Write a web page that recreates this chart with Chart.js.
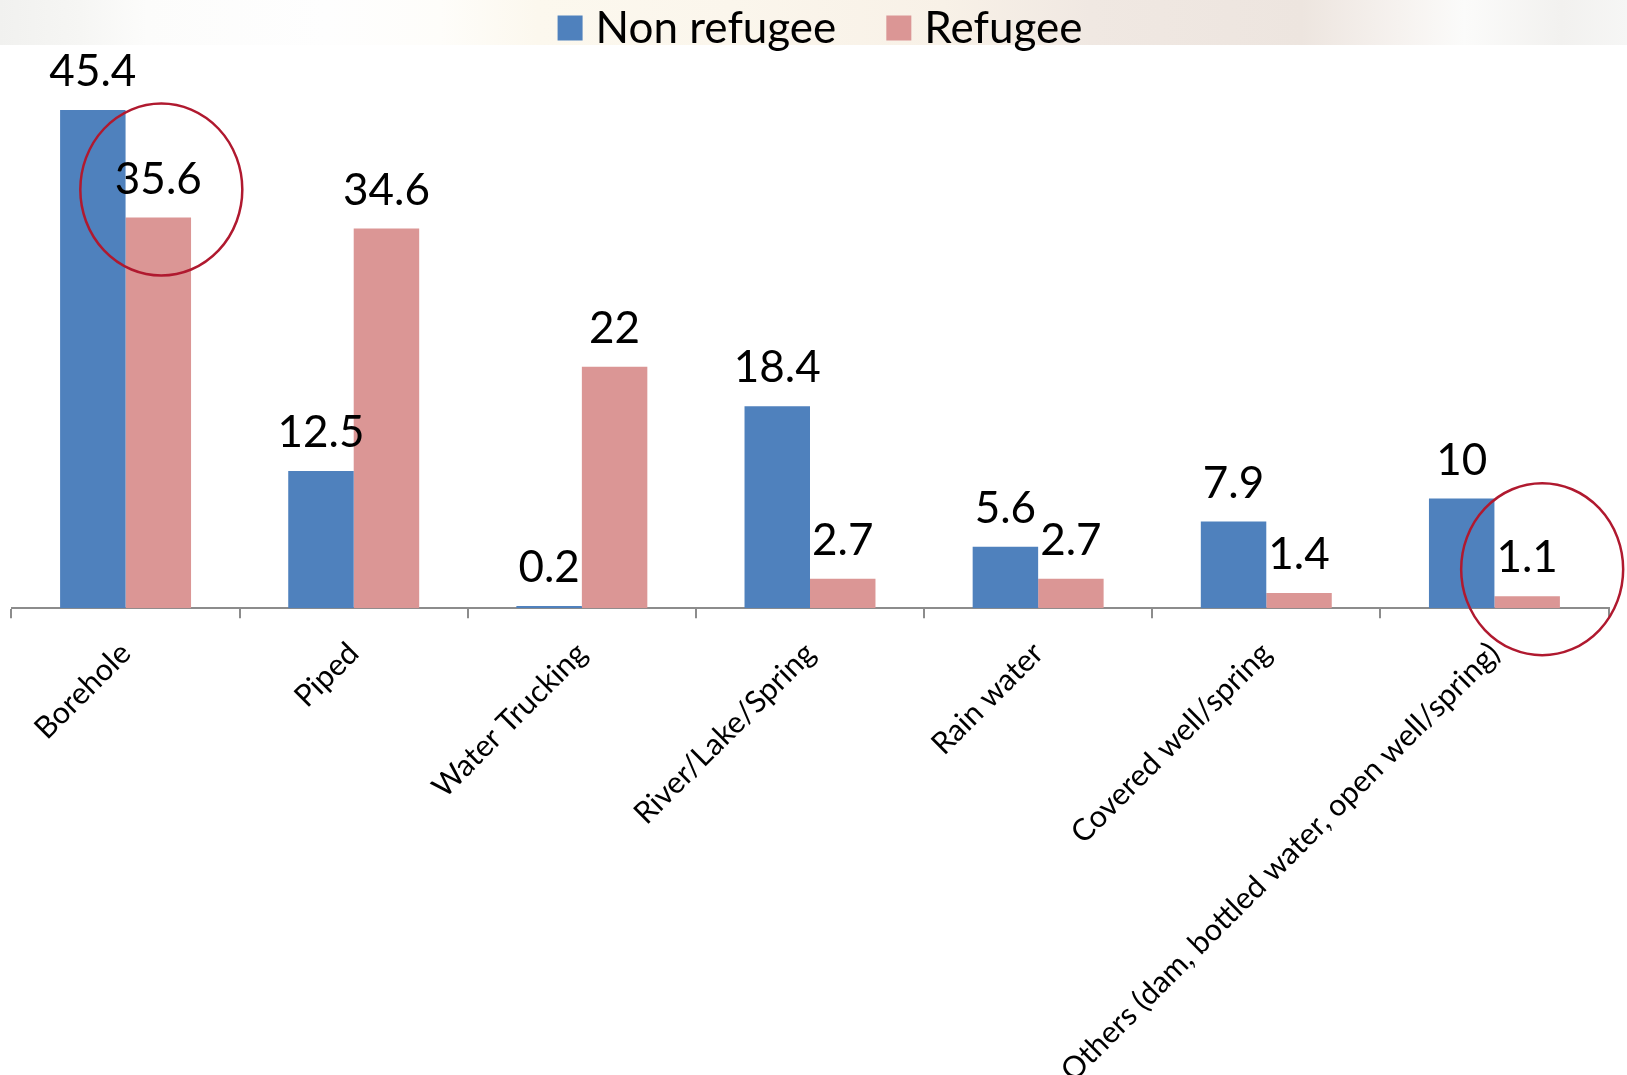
<!DOCTYPE html>
<html>
<head>
<meta charset="utf-8">
<script src="https://cdn.jsdelivr.net/npm/chart.js@4.4.1/dist/chart.umd.min.js"></script>
<style>
    html, body { margin: 0; padding: 0; background: #fff; }
    #wrap { position: relative; width: 1627px; height: 1075px; }
    #band {
        position: absolute; left: 0; top: 0; width: 1627px; height: 45px;
        background: linear-gradient(90deg, #f1f1ef 0%, #f6f6f4 5%, #fcfcfb 9%, #fefefe 20%, #fefdfa 27%, #fcf8ee 33%, #fbf6ec 45%, #f8f1e7 58%, #f0e8e2 67%, #ede5df 80%, #f6f2ef 86%, #fbfbfa 90%, #f2f1ef 96%, #f6f6f5 100%);
    }
    #creditChart { position: absolute; left: 0; top: 0; }
</style>
</head>
<body>
<div id="wrap">
    <div id="band"></div>
    <canvas id="creditChart" width="1627" height="1075"></canvas>
</div>
<script>
const categories = ['Borehole', 'Piped', 'Water Trucking', 'River/Lake/Spring', 'Rain water', 'Covered well/spring', 'Others (dam, bottled water, open well/spring)'];
const nonRefugee = [45.4, 12.5, 0.2, 18.4, 5.6, 7.9, 10];
const refugee = [35.6, 34.6, 22, 2.7, 2.7, 1.4, 1.1];
const seriesNames = ['Non refugee', 'Refugee'];
const seriesColors = ['#4F81BD', '#DB9695'];

const FONT = 'Lato, "Open Sans", sans-serif';

// legend drawn by hand so spacing matches the slide
const legendPlugin = {
    id: 'slideLegend',
    afterDraw(chart) {
        const ctx = chart.ctx;
        ctx.save();
        ctx.font = '44px ' + FONT;
        ctx.textBaseline = 'middle';
        ctx.textAlign = 'left';
        const box = 25, gapText = 13, gapItem = 50;
        const widths = chart.data.datasets.map(ds => box + gapText + ctx.measureText(ds.label).width);
        const total = widths.reduce((a, b) => a + b, 0) + gapItem * (widths.length - 1);
        let x = 820 - total / 2;
        const cy = 28;
        chart.data.datasets.forEach((ds, i) => {
            ctx.fillStyle = ds.backgroundColor;
            ctx.fillRect(x, cy - box / 2, box, box);
            ctx.fillStyle = '#000';
            ctx.fillText(ds.label, x + box + gapText, cy + 1);
            x += widths[i] + gapItem;
        });
        ctx.restore();
    }
};

const valueLabels = {
    id: 'valueLabels',
    afterDatasetsDraw(chart) {
        const ctx = chart.ctx;
        ctx.save();
        ctx.font = '44px ' + FONT;
        ctx.fillStyle = '#000';
        ctx.textAlign = 'center';
        ctx.textBaseline = 'alphabetic';
        chart.data.datasets.forEach((ds, di) => {
            chart.getDatasetMeta(di).data.forEach((bar, i) => {
                ctx.fillText(String(ds.data[i]), bar.x, bar.y - 24);
            });
        });
        ctx.restore();
    }
};

// red rings from the slide, placed around the refugee bars they point at
const rings = {
    id: 'rings',
    afterDraw(chart) {
        const ctx = chart.ctx;
        const meta = chart.getDatasetMeta(1);
        const marks = [{ i: 0, dx: 3, dy: -28 }, { i: 6, dx: 15, dy: -27 }];
        ctx.save();
        ctx.strokeStyle = '#B0192F';
        ctx.lineWidth = 2.5;
        marks.forEach(m => {
            const bar = meta.data[m.i];
            ctx.beginPath();
            ctx.ellipse(bar.x + m.dx, bar.y + m.dy, 81, 86, 0, 0, Math.PI * 2);
            ctx.stroke();
        });
        ctx.restore();
    }
};

const ctx = document.getElementById('creditChart').getContext('2d');
new Chart(ctx, {
    type: 'bar',
    data: {
        labels: categories,
        datasets: [
            { label: seriesNames[0], data: nonRefugee, backgroundColor: seriesColors[0] },
            { label: seriesNames[1], data: refugee, backgroundColor: seriesColors[1] }
        ]
    },
    options: {
        responsive: false,
        animation: false,
        events: [],
        layout: { padding: { top: 59.5, left: 11.5, right: 18.5, bottom: 0 } },
        datasets: { bar: { categoryPercentage: 0.574, barPercentage: 1 } },
        plugins: {
            legend: { display: false },
            tooltip: { enabled: false }
        },
        scales: {
            x: {
                offset: true,
                grid: { display: true, drawOnChartArea: false, drawTicks: true, tickLength: 10, color: '#8c8c8c', lineWidth: 2, offset: true },
                border: { display: true, color: '#8c8c8c', width: 2 },
                ticks: {
                    autoSkip: false, minRotation: 45, maxRotation: 45, padding: 17,
                    color: '#000', font: { family: FONT, size: 30.5 }
                },
                afterFit: scale => { scale.height = 1075 - 608.3; }
            },
            y: { display: false, min: 0, max: 50 }
        }
    },
    plugins: [legendPlugin, valueLabels, rings]
});
</script>
</body>
</html>
